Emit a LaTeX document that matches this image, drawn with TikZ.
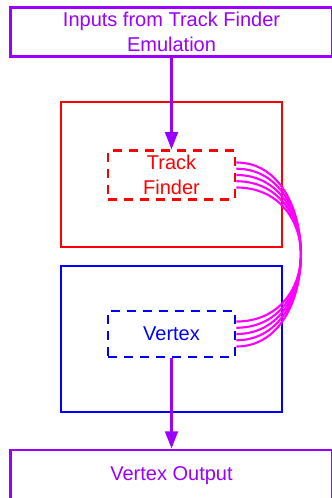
\documentclass[tikz,border=0pt]{standalone}
\usepackage{fontspec}
\setmainfont{Liberation Sans}
\usetikzlibrary{arrows.meta,calc}
\definecolor{flow}{HTML}{9900FF}
\definecolor{tfred}{HTML}{FF0000}
\definecolor{vxblue}{HTML}{0000FF}
\definecolor{link}{HTML}{FF00FF}

\begin{document}
\begin{tikzpicture}[
  x=0.75pt,y=-0.75pt,
  font=\fontsize{15}{18.5}\selectfont,
  arrow/.style={-{Triangle[length=13pt,width=9.5pt]},line width=2.1pt,draw=flow},
  io/.style={draw=flow,line width=2.1pt,text=flow,align=center,minimum width=242pt},
  stage/.style={draw=#1,line width=2.1pt,minimum width=165.75pt},
  block/.style={draw=#1,text=#1,dash pattern=on 7pt off 5pt,line width=2.1pt,
                align=center,minimum width=95.25pt},
  wire/.style={draw=link,line width=1.6pt}
]
\useasboundingbox (0,0) rectangle (331,498);

% Input and output
\node[io,minimum height=36pt] (input) at (171.5,32)
  {Inputs from Track Finder\\Emulation};
\node[io,minimum height=39pt] (output) at (171.5,476) {Vertex Output};

% Track finder stage
\node[stage=tfred,minimum height=108.75pt] (tfstage) at (171.5,174.5) {};
\node[block=tfred,minimum height=36pt] (tf) at (171.5,175) {Track\\Finder};

% Vertex stage
\node[stage=vxblue,minimum height=109.5pt] (vxstage) at (171.5,339) {};
\node[block=vxblue,minimum height=34.5pt] (vx) at (171.5,334) {Vertex};

% Flow
\draw[arrow] (input.south) -- (tf.north);
\draw[arrow] (vx.south) -- (output.north);

% Links between the two blocks
\foreach \i in {0,...,4} {
  \coordinate (tfport\i) at ($(tf.east)+(0,-12.5+6.25*\i)$);
  \coordinate (vxport\i) at ($(vx.east)+(0,12.5-6.25*\i)$);
  \draw[wire] (tfport\i) .. controls +(86,0) and +(86,0) .. (vxport\i);
}
\end{tikzpicture}
\end{document}
